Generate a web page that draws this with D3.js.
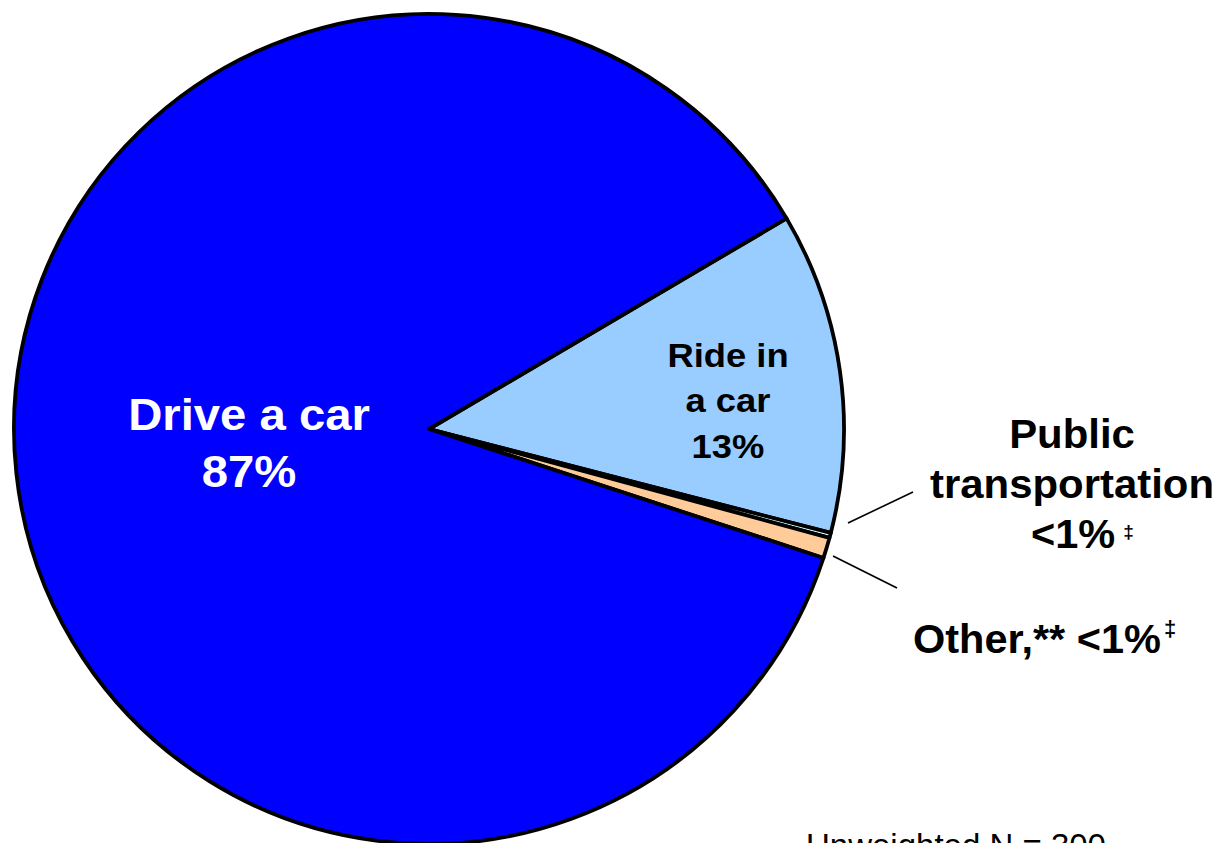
<!DOCTYPE html>
<html>
<head>
<meta charset="utf-8">
<script src="https://cdn.jsdelivr.net/npm/d3@7"></script>
<style>
  html, body { margin: 0; padding: 0; background: #fff; }
  svg { display: block; font-family: "Liberation Sans", Arial, sans-serif; }
</style>
</head>
<body>
<svg id="chart" width="1222" height="843"></svg>
<script>
// Travel mode shares (percent), drawn clockwise starting from "Ride in a car"
const categories = ["Ride in a car", "Public transportation", "Other", "Drive a car"];
const shares = [12.5, 0.2, 0.8, 86.5];
const sliceColors = ["#99CCFF", "#CCFFFF", "#FFCC99", "#0000FF"];
const footnote = "Unweighted N = 300";

const pctText = v => v < 1 ? "<1%" : Math.round(v) + "%";

const svg = d3.select("#chart");
const cx = 429, cy = 429, radius = 415;
const startDeg = 59.5;

const pie = d3.pie()
  .sort(null)
  .value(d => d.value)
  .startAngle(startDeg * Math.PI / 180)
  .endAngle(startDeg * Math.PI / 180 + 2 * Math.PI);

const data = categories.map((c, i) => ({ name: c, value: shares[i], color: sliceColors[i] }));
const arcs = pie(data);
const arc = d3.arc().innerRadius(0).outerRadius(radius);

const g = svg.append("g").attr("transform", `translate(${cx},${cy})`);
g.selectAll("path.slice")
  .data(arcs)
  .join("path")
  .attr("class", "slice")
  .attr("d", arc)
  .attr("fill", d => d.data.color)
  .attr("stroke", "#000")
  .attr("stroke-width", 3.8)
  .attr("stroke-linejoin", "round");

// Slice labels
function multiLine(x, y, lines, size, lineH, fill, sx) {
  const t = svg.append("text")
    .attr("transform", `translate(${x},${y}) scale(${sx},1)`)
    .attr("text-anchor", "middle")
    .attr("font-weight", "bold")
    .attr("font-size", size)
    .attr("fill", fill);
  lines.forEach((l, i) => {
    t.append("tspan").attr("x", 0).attr("y", i * lineH).text(l);
  });
  return t;
}

const byName = Object.fromEntries(data.map(d => [d.name, d]));

multiLine(249, 430, ["Drive a car", pctText(byName["Drive a car"].value)], 45, 57, "#fff", 1.05);
multiLine(728, 367, ["Ride in", "a car", pctText(byName["Ride in a car"].value)], 34, 45.5, "#000", 1.07);

// Public transportation label
multiLine(1072, 448, ["Public", "transportation"], 41.5, 50, "#000", 1.01);
const pt = svg.append("text")
  .attr("x", 1031).attr("y", 548)
  .attr("font-weight", "bold").attr("font-size", 41.5).attr("fill", "#000");
pt.append("tspan").text(pctText(byName["Public transportation"].value));
pt.append("tspan").attr("dx", 8).attr("dy", -10).attr("font-size", 19).text("\u2021");

// Other label
const ot = svg.append("text")
  .attr("x", 913).attr("y", 653)
  .attr("font-weight", "bold").attr("font-size", 41.5).attr("fill", "#000");
ot.append("tspan").text("Other,** " + pctText(byName["Other"].value));
ot.append("tspan").attr("dx", 3).attr("dy", -17).attr("font-size", 22).text("\u2021");

// Leader lines
const leaders = [
  [[848, 523], [913, 492]],
  [[833, 556], [897, 588]]
];
svg.selectAll("line.leader")
  .data(leaders)
  .join("line")
  .attr("class", "leader")
  .attr("x1", d => d[0][0]).attr("y1", d => d[0][1])
  .attr("x2", d => d[1][0]).attr("y2", d => d[1][1])
  .attr("stroke", "#000")
  .attr("stroke-width", 1.6);

// Sample size note
svg.append("text")
  .attr("x", 806).attr("y", 857)
  .attr("font-size", 33)
  .attr("fill", "#000")
  .text(footnote);
</script>
</body>
</html>
